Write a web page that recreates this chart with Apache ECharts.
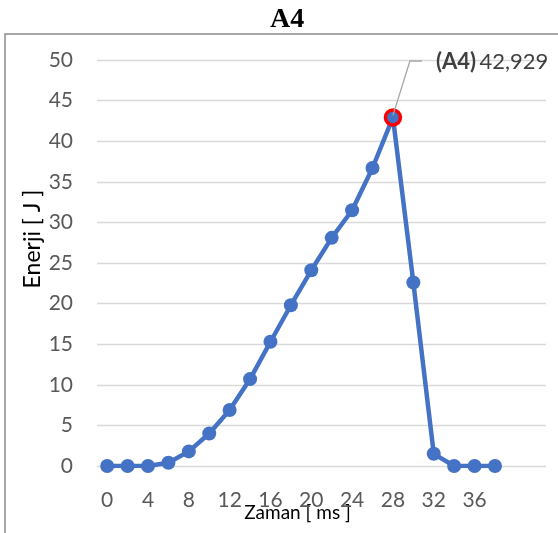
<!DOCTYPE html>
<html>
<head>
<meta charset="utf-8">
<script src="https://cdn.jsdelivr.net/npm/echarts@6/dist/echarts.min.js"></script>
<style>
  html, body { margin: 0; padding: 0; background: #fff; }
  #chart { width: 558px; height: 533px; }
</style>
</head>
<body>
<div id="chart"></div>
<script>
// Time steps (ms) and energy readings (J) for specimen A4
var times = [0, 2, 4, 6, 8, 10, 12, 14, 16, 18, 20, 22, 24, 26, 28, 30, 32, 34, 36, 38];
var energy = [0, 0, 0, 0.4, 1.8, 4.0, 6.9, 10.7, 15.3, 19.8, 24.1, 28.1, 31.5, 36.7, 42.929, 22.6, 1.5, 0, 0, 0];
var yTicks = { min: 0, max: 50, step: 5 };
var peakName = 'A4';

// Two empty slots keep room on the right of the time axis
var axisCats = times.map(String).concat(['', '']);

var peakIdx = energy.indexOf(Math.max.apply(null, energy));
var seriesData = energy.map(function (v, i) {
  if (i !== peakIdx) return v;
  return {
    value: v,
    symbolSize: 15,
    itemStyle: { color: '#4472C4', borderColor: '#FF0000', borderWidth: 3.5 },
    label: {
      show: true,
      formatter: function (p) {
        return '{b|(' + peakName + ')} {v|' + p.value.toFixed(3).replace('.', ',') + '}';
      },
      rich: {
        b: { fontFamily: 'Lato', fontSize: 22, fontWeight: 'bold', color: '#404040' },
        v: { fontFamily: 'Lato', fontSize: 22, color: '#404040' }
      }
    }
  };
});

var chart = echarts.init(document.getElementById('chart'), null, { renderer: 'canvas' });
chart.setOption({
  animation: false,
  backgroundColor: '#fff',
  title: {
    text: 'A4',
    left: 265,
    top: 1,
    textStyle: { fontFamily: 'Liberation Serif', fontWeight: 'bold', fontSize: 28, color: '#000' }
  },
  grid: { left: 97, right: 12, top: 60, bottom: 67, outerBoundsMode: 'none', containLabel: false },
  xAxis: {
    type: 'category',
    data: axisCats,
    boundaryGap: true,
    axisLine: { show: false },
    axisTick: { show: false },
    axisLabel: { interval: 1, margin: 24, fontFamily: 'Lato', fontSize: 21, color: '#595959' },
    name: 'Zaman [ ms ]',
    nameLocation: 'middle',
    nameGap: 37,
    nameMoveOverlap: false,
    nameTextStyle: { fontFamily: 'Lato', fontSize: 19, color: '#000', padding: [0, 48, 0, 0] }
  },
  yAxis: {
    type: 'value',
    min: yTicks.min,
    max: yTicks.max,
    interval: yTicks.step,
    axisLine: { show: false },
    axisTick: { show: false },
    splitLine: { lineStyle: { color: '#D9D9D9', width: 1.3 } },
    axisLabel: { margin: 24, fontFamily: 'Lato', fontSize: 21, color: '#595959' }
  },
  series: [{
    type: 'line',
    data: seriesData,
    symbol: 'circle',
    symbolSize: 14,
    showAllSymbol: true,
    itemStyle: { color: '#4472C4' },
    lineStyle: { color: '#4472C4', width: 4.5 },
    z: 3,
    labelLayout: function (p) {
      if (p.dataIndex !== peakIdx) return {};
      return { x: 436, y: 62, align: 'left', verticalAlign: 'middle' };
    }
  }]
});

// Outer chart frame, vertical axis title and the callout leader from the peak to its label
var peakPx = chart.convertToPixel({ seriesIndex: 0 }, [peakIdx, energy[peakIdx]]);
chart.setOption({
  graphic: [{
    type: 'rect',
    shape: { x: 5, y: 34, width: 700, height: 700 },
    style: { fill: null, stroke: '#8A8A8A', lineWidth: 1.5 },
    silent: true
  }, {
    type: 'text',
    x: 33,
    y: 239,
    rotation: Math.PI / 2,
    style: {
      text: 'Enerji [ J ]',
      fontFamily: 'Lato',
      fontSize: 23,
      fill: '#000',
      align: 'center',
      verticalAlign: 'middle'
    },
    silent: true
  }, {
    type: 'polyline',
    shape: { points: [[peakPx[0], peakPx[1] - 2], [peakPx[0] + 17, 61], [peakPx[0] + 29, 61]] },
    style: { fill: null, stroke: '#A6A6A6', lineWidth: 1.3 },
    z: 10,
    silent: true
  }]
});
</script>
</body>
</html>
